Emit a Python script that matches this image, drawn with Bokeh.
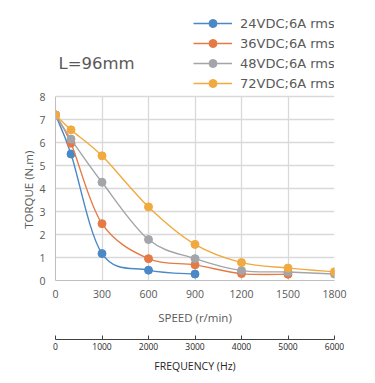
from bokeh.plotting import figure
from bokeh.models import Range1d, LinearAxis, FixedTicker, Legend, LegendItem, Label, ColumnDataSource
from bokeh.embed import file_html
from bokeh.resources import INLINE

# ---- data ----
speed = [0, 100, 300, 600, 900, 1200, 1500, 1800]
torque_24v = [7.2, 5.5, 1.17, 0.45, 0.28]
torque_36v = [7.2, 5.97, 2.47, 0.95, 0.68, 0.3, 0.27]
torque_48v = [7.2, 6.15, 4.27, 1.78, 0.95, 0.43, 0.37, 0.28]
torque_72v = [7.2, 6.55, 5.42, 3.2, 1.57, 0.78, 0.54, 0.38]
series_labels = ["24VDC;6A rms", "36VDC;6A rms", "48VDC;6A rms", "72VDC;6A rms"]
series_colors = ["#4a89c5", "#e57a45", "#a3a5a9", "#f1aa3f"]
speed_ticks = [0, 300, 600, 900, 1200, 1500, 1800]
freq_ticks = [0, 1000, 2000, 3000, 4000, 5000, 6000]
torque_ticks = [0, 1, 2, 3, 4, 5, 6, 7, 8]
chart_title = "L=96mm"
y_label = "TORQUE (N.m)"

# ---- layout (pixels) ----
W, H = 375, 383
LEFT, RIGHT, BOTTOM = 55, 41, 103
PLOT_H = 184          # height in pixels of the 0..8 torque band
FRAME_H = H - BOTTOM  # frame reaches the top of the canvas (title + legend live inside it)
Y_MAX = torque_ticks[-1]
y_top = Y_MAX * FRAME_H / PLOT_H
# the axis label is centred on the whole frame; pad its end with no-break spaces
# so that the visible words sit centred on the 0..8 band
Y_LABEL_PAD = "\u00a0" * 33


def smooth_segments(xs, ys):
    """Cubic Bezier control points (Catmull-Rom style) through the data points."""
    n = len(xs)
    d = dict(x0=[], y0=[], x1=[], y1=[], cx0=[], cy0=[], cx1=[], cy1=[])
    for i in range(n - 1):
        xp, yp = (xs[i - 1], ys[i - 1]) if i > 0 else (xs[i], ys[i])
        xn, yn = (xs[i + 2], ys[i + 2]) if i + 2 < n else (xs[i + 1], ys[i + 1])
        d["x0"].append(xs[i]); d["y0"].append(ys[i])
        d["x1"].append(xs[i + 1]); d["y1"].append(ys[i + 1])
        d["cx0"].append(xs[i] + (xs[i + 1] - xp) / 6.0)
        d["cy0"].append(ys[i] + (ys[i + 1] - yp) / 6.0)
        d["cx1"].append(xs[i + 1] - (xn - xs[i]) / 6.0)
        d["cy1"].append(ys[i + 1] - (yn - ys[i]) / 6.0)
    return d


p = figure(width=W, height=H,
           x_range=Range1d(0, speed_ticks[-1]), y_range=Range1d(0, y_top),
           extra_x_ranges={"freq": Range1d(0, freq_ticks[-1])},
           output_backend="svg", toolbar_location=None,
           min_border_left=LEFT, min_border_right=RIGHT,
           min_border_top=0, min_border_bottom=BOTTOM)
p.background_fill_color = "white"
p.border_fill_color = "white"
p.outline_line_color = None

grid_color = "#d9d9d9"
p.xgrid.ticker = FixedTicker(ticks=speed_ticks)
p.ygrid.ticker = FixedTicker(ticks=torque_ticks)
p.xgrid.grid_line_color = grid_color
p.ygrid.grid_line_color = grid_color
p.xgrid.grid_line_width = 1.3
p.ygrid.grid_line_width = 1.3
try:
    p.xgrid.cross_bounds = (0, Y_MAX)
    p.ygrid.cross_bounds = (0, speed_ticks[-1])
except Exception:
    p.xgrid.visible = False
    p.segment(x0=speed_ticks, y0=[0] * len(speed_ticks), x1=speed_ticks,
              y1=[Y_MAX] * len(speed_ticks), line_color=grid_color, line_width=1.3,
              level="underlay")

# primary x axis (speed)
xa = p.xaxis[0]
xa.ticker = FixedTicker(ticks=speed_ticks)
xa.axis_label = "SPEED (r/min)"
xa.axis_line_color = "#bfbfbf"
xa.major_tick_out = 0
xa.major_tick_in = 0
xa.minor_tick_out = 0
xa.minor_tick_in = 0
xa.major_label_standoff = 9
xa.major_label_text_font = "Open Sans"
xa.major_label_text_font_size = "10.5px"
xa.major_label_text_color = "#595959"
xa.axis_label_standoff = 9
xa.axis_label_text_font = "Open Sans"
xa.axis_label_text_font_size = "11.5px"
xa.axis_label_text_font_style = "normal"
xa.axis_label_text_color = "#595959"

# y axis
ya = p.yaxis[0]
ya.ticker = FixedTicker(ticks=torque_ticks)
ya.bounds = (0, Y_MAX)
ya.axis_label = y_label + Y_LABEL_PAD
ya.axis_line_color = "#bfbfbf"
ya.major_tick_out = 0
ya.major_tick_in = 0
ya.minor_tick_out = 0
ya.minor_tick_in = 0
ya.major_label_standoff = 10
ya.major_label_text_font = "Open Sans"
ya.major_label_text_font_size = "10.5px"
ya.major_label_text_color = "#595959"
ya.axis_label_standoff = 0
ya.axis_label_text_font = "Open Sans"
ya.axis_label_text_font_size = "11.5px"
ya.axis_label_text_font_style = "normal"
ya.axis_label_text_color = "#595959"

# blank spacer between the two bottom axes
spacer = LinearAxis(ticker=FixedTicker(ticks=[]), axis_line_color=None,
                    axis_label=" ", axis_label_text_font_size="8px",
                    major_tick_out=0, major_tick_in=0, minor_tick_out=0, minor_tick_in=0,
                    major_label_standoff=0, axis_label_standoff=0)
p.add_layout(spacer, "below")

# secondary x axis (frequency)
fa = LinearAxis(x_range_name="freq", ticker=FixedTicker(ticks=freq_ticks),
                axis_label="FREQUENCY (Hz)")
fa.axis_line_color = "#404040"
fa.major_tick_line_color = "#404040"
fa.major_tick_in = 4
fa.major_tick_out = 0
fa.minor_tick_in = 0
fa.minor_tick_out = 0
fa.major_label_standoff = 3
fa.major_label_text_font = "Open Sans"
fa.major_label_text_font_size = "8.5px"
fa.major_label_text_color = "#262626"
fa.axis_label_standoff = 6
fa.axis_label_text_font = "Open Sans"
fa.axis_label_text_font_size = "10.5px"
fa.axis_label_text_font_style = "normal"
fa.axis_label_text_color = "#262626"
p.add_layout(fa, "below")

items = []
all_series = [torque_24v, torque_36v, torque_48v, torque_72v]
for vals, lab, col in zip(all_series, series_labels, series_colors):
    xs = speed[:len(vals)]
    src = ColumnDataSource(smooth_segments(xs, vals))
    br = p.bezier(x0="x0", y0="y0", x1="x1", y1="y1", cx0="cx0", cy0="cy0",
                  cx1="cx1", cy1="cy1", source=src, line_color=col, line_width=1.4)
    sr = p.scatter(xs, vals, size=8, fill_color=col, line_color=col, marker="circle")
    items.append(LegendItem(label=lab, renderers=[br, sr]))

legend = Legend(items=items, location=(138, 187), padding=0, margin=0, spacing=0,
                glyph_width=39, glyph_height=20, label_standoff=8,
                border_line_color=None, background_fill_alpha=0,
                label_text_font="DejaVu Sans", label_text_font_size="13px",
                label_text_color="#595959")
p.add_layout(legend, "center")

title = Label(x=3, y=217, x_units="screen", y_units="screen", text=chart_title,
              text_font="DejaVu Sans", text_font_size="16.5px",
              text_color="#595959", text_baseline="middle")
p.add_layout(title)

open("out.html", "w").write(file_html(p, INLINE))
